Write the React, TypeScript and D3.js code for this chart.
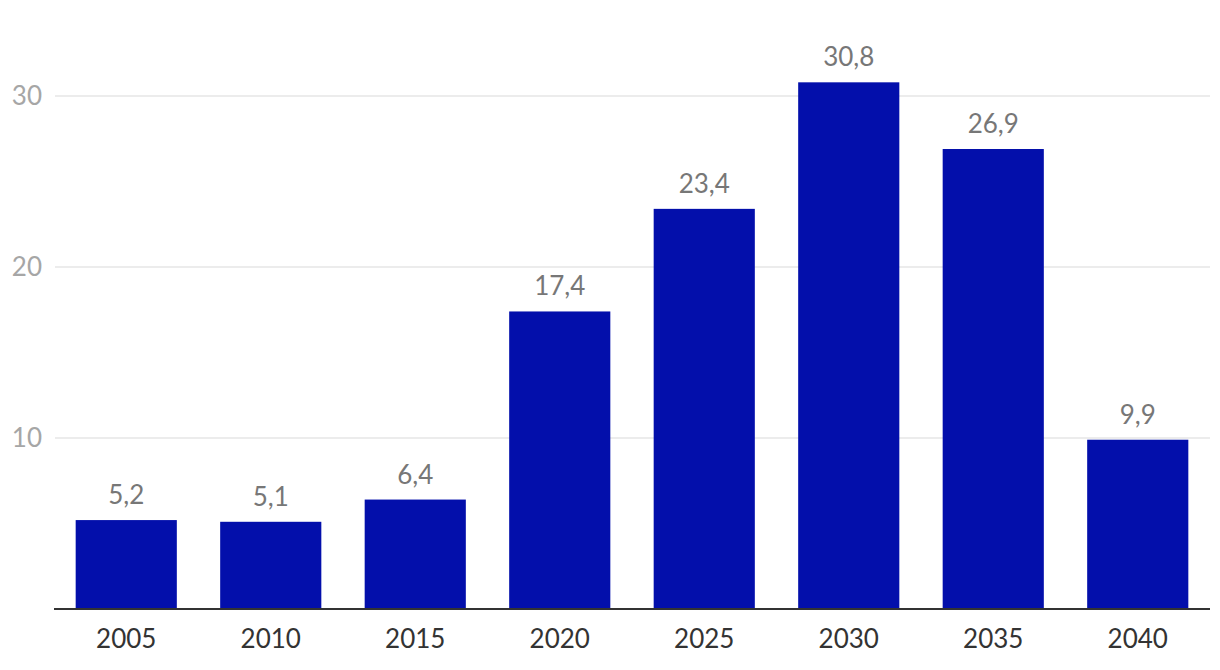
import React from "react";
import * as d3 from "d3";

const categories = ["2005", "2010", "2015", "2020", "2025", "2030", "2035", "2040"];
const values = [5.2, 5.1, 6.4, 17.4, 23.4, 30.8, 26.9, 9.9];
const yTicks = [10, 20, 30];

const W = 1220;
const H = 670;
const FONT = "Lato, 'Open Sans', sans-serif";

export default function App() {
  const x = d3
    .scaleBand<string>()
    .domain(categories)
    .range([54, 1210])
    .paddingInner(0.3)
    .paddingOuter(0.15);
  const y = d3.scaleLinear().domain([0, 10]).range([609, 438]);
  const fmt = (v: number) => d3.format(".1f")(v).replace(".", ",");

  return (
    <svg width={W} height={H} style={{ position: "absolute", left: 0, top: 0, background: "#fff" }}>
      {yTicks.map((t) => (
        <g key={t}>
          <line x1={55} x2={1210} y1={y(t)} y2={y(t)} stroke="#e6e6e6" strokeWidth={1.5} />
          <text
            x={42}
            y={y(t)}
            dy="0.36em"
            textAnchor="end"
            fontFamily={FONT}
            fontSize={26}
            fill="#a6a6a6"
          >
            {t}
          </text>
        </g>
      ))}
      {categories.map((c, i) => (
        <g key={c}>
          <rect
            x={x(c)}
            y={y(values[i])}
            width={x.bandwidth()}
            height={y(0) - y(values[i])}
            fill="#030fab"
          />
          <text
            x={(x(c) as number) + x.bandwidth() / 2}
            y={y(values[i]) - 16}
            textAnchor="middle"
            fontFamily={FONT}
            fontSize={26}
            fill="#777777"
          >
            {fmt(values[i])}
          </text>
          <text
            x={(x(c) as number) + x.bandwidth() / 2}
            y={648}
            textAnchor="middle"
            fontFamily={FONT}
            fontSize={26}
            fill="#333333"
          >
            {c}
          </text>
        </g>
      ))}
      <line x1={54} x2={1210} y1={y(0)} y2={y(0)} stroke="#333333" strokeWidth={2} />
    </svg>
  );
}
